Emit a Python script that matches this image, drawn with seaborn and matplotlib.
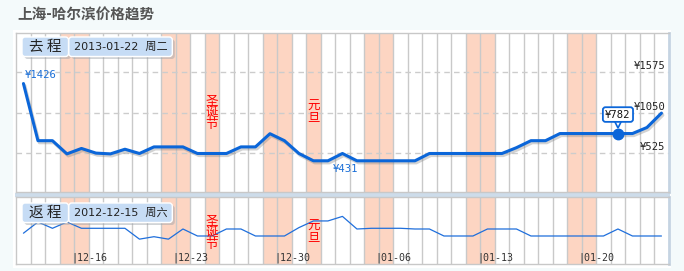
import numpy as np
import pandas as pd
import matplotlib
matplotlib.use('Agg')
import matplotlib.pyplot as plt
import seaborn as sns
from matplotlib.patches import Rectangle, FancyBboxPatch
from matplotlib.transforms import offset_copy
import matplotlib.patheffects as pe

# ---------------- data ----------------
title = '上海-哈尔滨价格趋势'
start_date = '2012-12-12'
end_date = '2013-01-25'
outbound_prices = [1426, 690, 690, 520, 590, 530, 520, 580, 525, 610,
                   610, 610, 525, 525, 525, 610, 610, 780, 690, 525,
                   431, 431, 525, 431, 431, 431, 431, 431, 525, 525,
                   525, 525, 525, 525, 600, 690, 690, 782, 782, 782,
                   782, 782, 782, 860, 1045]
return_prices = [540, 700, 610, 700, 610, 610, 610, 610, 455, 490,
                 455, 600, 500, 500, 600, 600, 500, 500, 500, 620,
                 715, 715, 780, 600, 610, 610, 610, 600, 600, 500,
                 500, 500, 600, 600, 600, 500, 500, 500, 500, 500,
                 500, 600, 500, 500, 500]
shaded_days = ['12-15', '12-16', '12-22', '12-23', '12-25', '12-29', '12-30',
               '01-01', '01-05', '01-06', '01-12', '01-13', '01-19', '01-20']
holiday_days = ['12-25', '01-01']
holiday_names = ['圣诞节', '元旦']
tick_days = ['12-16', '12-23', '12-30', '01-06', '01-13', '01-20']
price_ticks = [525, 1050, 1575]
outbound_tag = '去 程'
outbound_date = '2013-01-22  周二'
return_tag = '返 程'
return_date = '2012-12-15  周六'
selected_day = '01-22'

# ---------------- style ----------------
sns.set_style('white')
plt.rcParams['font.family'] = ['DejaVu Sans', 'Noto Sans CJK SC']
CJK = ['Noto Sans CJK SC', 'DejaVu Sans']
MONO = ['DejaVu Sans Mono', 'Noto Sans CJK SC']
BLUE = '#0b66d9'
BLUE2 = '#1f6fdc'
SHADE = '#fdd5c2'
GRID = '#c9c9c9'

W, H = 684, 271
fig = plt.figure(figsize=(W / 100, H / 100), dpi=100)
fig.patch.set_facecolor('#f4fafb')

def frac(x0, y0, x1, y1):
    return [x0 / W, (H - y1) / H, (x1 - x0) / W, (y1 - y0) / H]

# background axes (pixel coords)
bg = fig.add_axes([0, 0, 1, 1], zorder=0)
bg.set_xlim(0, W); bg.set_ylim(H, 0); bg.axis('off')
bg.add_patch(Rectangle((13, 30), 658, 238, fc='white', ec='none'))
bg.add_patch(Rectangle((15, 192.5), 655, 4.3, fc='#cddcea', ec='none'))

dates = pd.date_range(start_date, end_date, freq='D')
labels = list(dates.strftime('%m-%d'))
n = len(dates)
df = pd.DataFrame({'x': np.arange(n) + 0.5,
                   'outbound': outbound_prices,
                   'ret': return_prices})

x_left, day_w = 16.2, 14.5
x_right = x_left + n * day_w
ax1 = fig.add_axes(frac(x_left, 33, x_right, 192), zorder=2)
ax2 = fig.add_axes(frac(x_left, 197, x_right, 264), zorder=2)
ax1.set_ylim(29, 2077)
ax2.set_ylim(100, 1057)

for ax in (ax1, ax2):
    ax.set_xlim(0, n)
    ax.set_facecolor('white')
    for d in shaded_days:
        i = labels.index(d)
        ax.axvspan(i, i + 1, color=SHADE, lw=0, zorder=0.5)
    ax.vlines(np.arange(1, n), 0, 1, transform=ax.get_xaxis_transform(),
              colors=GRID, lw=1, zorder=1)
    for s in ax.spines.values():
        s.set_color('#c8c8c8'); s.set_linewidth(1)
    ax.spines['right'].set_color('#c5d4e2'); ax.spines['right'].set_linewidth(2)
    for d, name in zip(holiday_days, holiday_names):
        i = labels.index(d)
        ax.text(i + 0.5, 0.5 if ax is ax1 else 0.47, '\n'.join(name),
                transform=ax.get_xaxis_transform(), ha='center', va='center',
                color='red', fontsize=9.0, family=CJK, linespacing=0.86, zorder=5)

# horizontal price grid
for v in price_ticks:
    ax1.axhline(v, color='#cccccc', lw=1, ls=(0, (4, 3)), zorder=1)
    ax1.annotate('¥%d' % v, xy=(1, v), xycoords=ax1.get_yaxis_transform(),
                 xytext=(-3, 1), textcoords='offset pixels', ha='right', va='bottom',
                 fontsize=7.6, family=MONO, color='#222222', zorder=6)

# lines
sns.lineplot(data=df, x='x', y='outbound', ax=ax1, color=BLUE, lw=2.2, zorder=4)
sns.lineplot(data=df, x='x', y='ret', ax=ax2, color=BLUE2, lw=0.9, zorder=4)
ax1.lines[-1].set_path_effects([pe.SimpleLineShadow(offset=(1, -1.5), shadow_color='gray', alpha=0.35), pe.Normal()])
for ax in (ax1, ax2):
    ax.set_xlabel(''); ax.set_ylabel('')
    ax.set_xticks([]); ax.set_yticks([])

# first / min price labels
ax1.annotate('¥%d' % outbound_prices[0], xy=(df.x[0], outbound_prices[0]),
             xytext=(1, 4), textcoords='offset pixels', ha='left', va='bottom',
             fontsize=7.6, family=MONO, color='#1a6fd8', zorder=6)
imin = 22
ax1.annotate('¥%d' % min(outbound_prices), xy=(df.x[imin], min(outbound_prices)),
             xytext=(3, -3), textcoords='offset pixels', ha='center', va='top',
             fontsize=7.6, family=MONO, color='#1a6fd8', zorder=6)

# selected point tooltip
isel = labels.index(selected_day)
xp, yp = df.x[isel], outbound_prices[isel]
ax1.plot([xp], [yp], marker='o', ms=7.5, color=BLUE, zorder=7)
ax1.plot([xp], [yp], marker='v', ms=5.5, mfc='white', mec=BLUE, mew=1.2, zorder=7,
         transform=offset_copy(ax1.transData, fig, x=0, y=9.5, units='dots'))
ax1.annotate('¥%d' % yp, xy=(xp, yp), xytext=(0, 19), textcoords='offset pixels',
             ha='center', va='center', fontsize=7.6, family=MONO, color='#111111', zorder=8,
             bbox=dict(boxstyle='round,pad=0.22,rounding_size=0.25', fc='white', ec=BLUE, lw=1.3))

# day tick labels
for d in tick_days:
    i = labels.index(d)
    ax2.annotate('|' + d, xy=(i, 0.1), xycoords=ax2.get_xaxis_transform(),
                 xytext=(-3, 0), textcoords='offset pixels', ha='left', va='center',
                 fontsize=7.2, family=MONO, color='#333333', zorder=6)

# overlay (pixel coords) for title and header boxes
ov = fig.add_axes([0, 0, 1, 1], zorder=10)
ov.set_xlim(0, W); ov.set_ylim(H, 0); ov.axis('off'); ov.patch.set_alpha(0)
ov.text(17, 15, title, fontsize=10.5, fontweight='bold', color='#555555',
        family=CJK, ha='left', va='center')

def header(y, tag, date):
    for (x0, w) in ((22, 46.5), (68.8, 103.5)):
        ov.add_patch(FancyBboxPatch((x0 + 2.5, y + 2.5), w, 19.5,
                                    boxstyle='round,pad=0,rounding_size=3',
                                    fc='#9aa0a8', ec='none', alpha=0.45))
        ov.add_patch(FancyBboxPatch((x0, y), w, 19.5,
                                    boxstyle='round,pad=0,rounding_size=3',
                                    fc='#c6dcf5', ec='white', lw=1))
    ov.text(45, y + 10, tag, fontsize=10.5, family=CJK, color='#222222', ha='center', va='center')
    ov.text(121, y + 10, date, fontsize=8.0, family=['DejaVu Sans', 'Noto Sans CJK SC'],
            color='#222222', ha='center', va='center')

header(37, outbound_tag, outbound_date)
header(203, return_tag, return_date)

fig.savefig('out.png', dpi=100, facecolor=fig.get_facecolor())
